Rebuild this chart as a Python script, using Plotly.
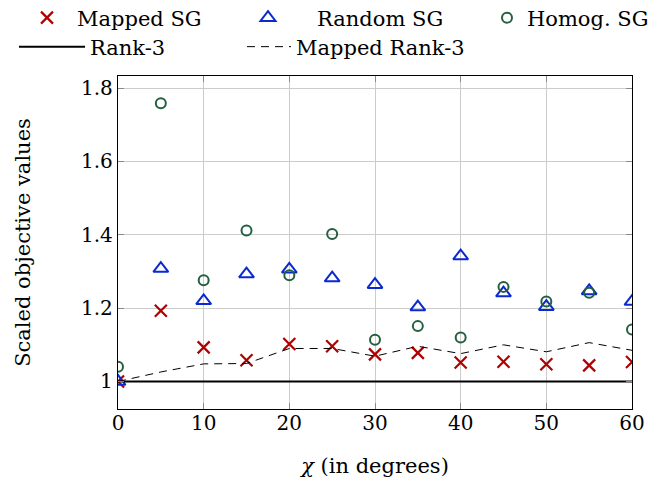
import plotly.graph_objects as go

# Rotation angle chi (degrees)
chi = [0, 5, 10, 15, 20, 25, 30, 35, 40, 45, 50, 55, 60]

# Scaled objective values per method
mapped_sg = [1.000, 1.193, 1.093, 1.058, 1.102, 1.096, 1.074, 1.078, 1.052, 1.054, 1.047, 1.044, 1.053]
random_sg = [1.000, 1.308, 1.220, 1.293, 1.306, 1.282, 1.264, 1.203, 1.342, 1.241, 1.204, 1.247, 1.218]
homog_sg = [1.040, 1.759, 1.276, 1.412, 1.290, 1.402, 1.114, 1.151, 1.120, 1.258, 1.218, 1.242, 1.142]
rank3 = [1.0, 1.0, 1.0, 1.0, 1.0, 1.0, 1.0, 1.0, 1.0, 1.0, 1.0, 1.0, 1.0]
mapped_rank3 = [1.000, 1.026, 1.048, 1.049, 1.090, 1.090, 1.069, 1.096, 1.076, 1.100, 1.081, 1.106, 1.085]

y_ticks = [1.0, 1.2, 1.4, 1.6, 1.8]
y_tick_text = ["1", "1.2", "1.4", "1.6", "1.8"]
x_ticks = [0, 10, 20, 30, 40, 50, 60]

FONT = "DejaVu Serif"
W, H = 662, 484

fig = go.Figure()

fig.add_trace(go.Scatter(
    x=chi, y=mapped_sg, mode="markers", name="Mapped SG", legend="legend",
    marker=dict(symbol="x-thin-open", size=12, color="#b00000",
                line=dict(width=2.2, color="#b00000")),
))
fig.add_trace(go.Scatter(
    x=chi, y=random_sg, mode="markers", name="Random SG", legend="legend2",
    marker=dict(symbol="triangle-up-open", size=13, color="#0a2ad0",
                line=dict(width=2, color="#0a2ad0")),
))
fig.add_trace(go.Scatter(
    x=chi, y=homog_sg, mode="markers", name="Homog. SG", legend="legend3",
    marker=dict(symbol="circle-open", size=10, color="#22603f",
                line=dict(width=2, color="#22603f")),
))
fig.add_trace(go.Scatter(
    x=chi, y=rank3, mode="lines", name="Rank-3", legend="legend4",
    line=dict(color="black", width=2),
))
fig.add_trace(go.Scatter(
    x=chi, y=mapped_rank3, mode="lines", name="Mapped Rank-3", legend="legend5",
    line=dict(color="black", width=1, dash="8px,6px"),
))

axis_common = dict(
    showline=True, linecolor="black", linewidth=1.3, mirror="ticks",
    ticks="inside", ticklen=6, tickwidth=1, tickcolor="#8a8a8a",
    showgrid=True, gridcolor="#cccccc", gridwidth=1,
    zeroline=False,
    tickfont=dict(family=FONT, size=20, color="black"),
)

fig.update_xaxes(
    range=[0, 60], tickvals=x_ticks, ticklabelstandoff=-4,
    title=dict(text="<i>χ</i> (in degrees)", font=dict(family=FONT, size=21, color="black"), standoff=24),
    **axis_common,
)
fig.update_yaxes(
    range=[0.925, 1.833], tickvals=y_ticks, ticktext=y_tick_text,
    title=dict(text="Scaled objective values", font=dict(family=FONT, size=21, color="black"), standoff=44),
    **axis_common,
)


def legend_box(left_px, center_y_px, itemwidth=30):
    # one legend entry placed at a fixed pixel position in the page
    return dict(
        orientation="h", xref="container", yref="container",
        x=left_px / W, y=1 - center_y_px / H, xanchor="left", yanchor="middle",
        font=dict(family=FONT, size=21, color="black"),
        bgcolor="rgba(0,0,0,0)", borderwidth=0, itemwidth=itemwidth,
    )


fig.update_layout(
    width=W, height=H,
    margin=dict(l=118, r=30, t=76, b=75, autoexpand=False),
    paper_bgcolor="white", plot_bgcolor="white",
    font=dict(family=FONT, size=21, color="black"),
    showlegend=True,
    legend=legend_box(17, 18, itemwidth=50),
    legend2=legend_box(219, 18, itemwidth=88),
    legend3=legend_box(487, 18, itemwidth=30),
    legend4=legend_box(14, 47, itemwidth=66),
    legend5=legend_box(242, 47, itemwidth=44),
)

fig.write_html("out.html")
